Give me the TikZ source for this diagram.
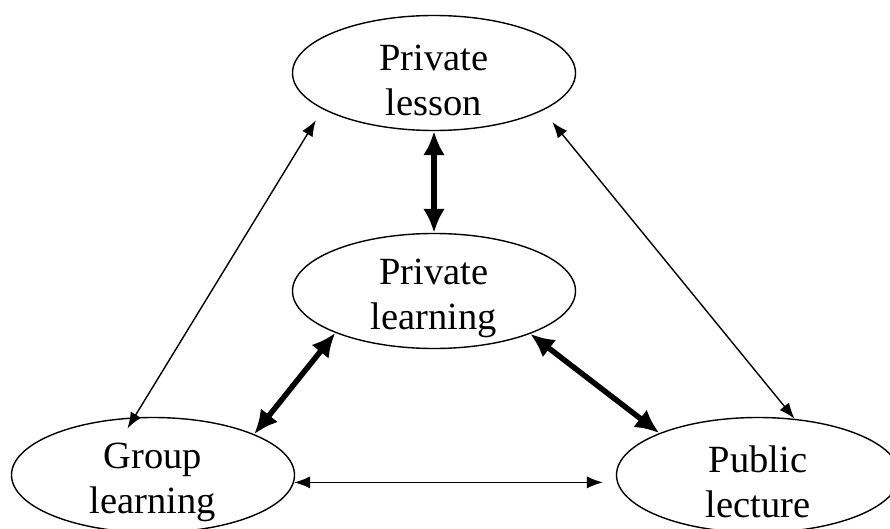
\documentclass[tikz,border=0pt]{standalone}
\usepackage{fontspec}
\setmainfont{Liberation Serif}
\usetikzlibrary{shapes.geometric,arrows.meta}
% raises the top of the first text line so the two lines sit a little low in the ellipse
\newcommand{\toppad}{\rule{0pt}{41pt}}
\begin{document}
\begin{tikzpicture}[x=1pt,y=-1pt,
  bubble/.style={ellipse,draw,line width=1.4pt,minimum width=283pt,minimum height=115pt,
    inner xsep=0pt,inner ysep=-14pt,align=center,font=\fontsize{38.5}{45}\selectfont},
  thinlink/.style={line width=1.4pt,{Latex[length=16pt,width=12pt]}-{Latex[length=16pt,width=12pt]}},
  thicklink/.style={line width=5.5pt,{Latex[length=24pt,width=22pt]}-{Latex[length=24pt,width=22pt]}}]
\useasboundingbox (0,0) rectangle (890,529);
\clip (0,0) rectangle (890,529);
\fill[white] (0,0) rectangle (890,529);

% the four kinds of learning
\node[bubble] (lesson)  at (434,73)  {\toppad Private\\lesson};
\node[bubble] (private) at (434,291) {\toppad Private\\learning};
\node[bubble] (group)   at (153,475) {\toppad Group\\learning};
\node[bubble] (public)  at (758,475) {\toppad Public\\lecture};

% weak links
\draw[thinlink,shorten <=13pt,shorten >=-13pt] (lesson.198) -- (group.108);
\draw[thinlink,shorten <=15pt] (lesson.341) -- (public.57.5);
\draw[thinlink,shorten >=14pt] (group.-3) -- (public.183);

% strong links to private learning
\draw[thicklink] (lesson.south) -- (private.north);
\draw[thicklink] (private.203.3) -- (group.22.8);
\draw[thicklink] (private.336.7) -- (public.157.4);
\end{tikzpicture}
\end{document}
